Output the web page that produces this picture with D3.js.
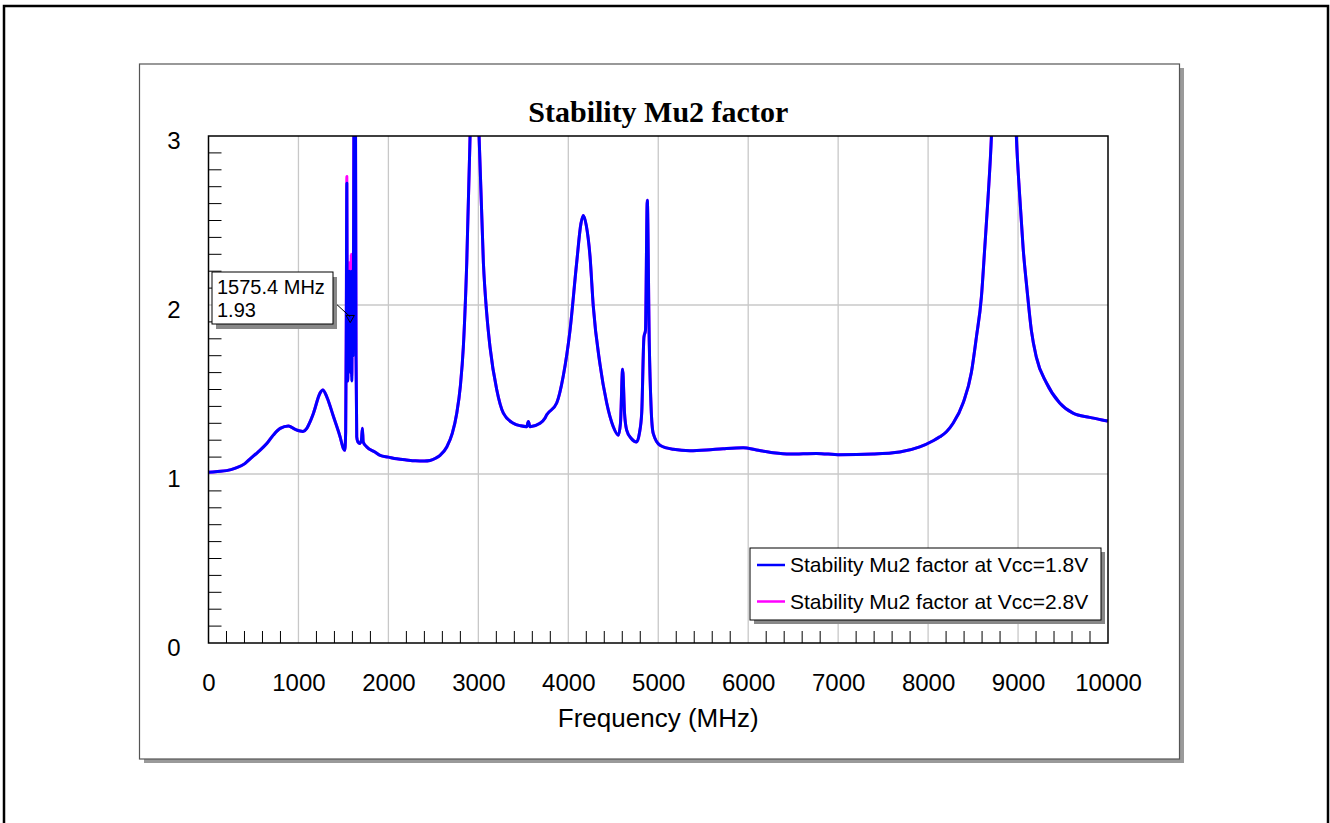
<!DOCTYPE html>
<html>
<head>
<meta charset="utf-8">
<script src="https://cdn.jsdelivr.net/npm/d3@7"></script>
<style>
  body { margin: 0; background: #fff; }
</style>
</head>
<body>
<svg width="1330" height="823"></svg>
<script>
const freqs = [0, 100, 200, 300, 400, 463, 550, 648, 720, 797, 889, 960, 1019, 1050, 1093, 1130, 1167, 1241, 1271, 1315, 1389, 1463,
  1500, 1515, 1525, 1532, 1538, 1543, 1548, 1553, 1558, 1564, 1570, 1575.4, 1581, 1587, 1593, 1600, 1606, 1613, 1620, 1632,
  1640, 1648, 1660, 1680, 1700, 1711, 1720, 1760, 1850, 1908, 2000, 2093, 2200, 2300, 2400, 2463, 2530, 2574, 2649, 2710,
  2760, 2800, 2833, 2871, 2908, 2930, 2958, 2985, 3008, 3056, 3093, 3130, 3204, 3278, 3389, 3470, 3538, 3556, 3574, 3686, 3740,
  3760, 3871, 3944, 4019, 4093, 4140, 4167, 4200, 4241, 4278, 4352, 4427, 4500, 4556, 4580, 4604, 4625, 4649, 4700, 4760,
  4790, 4816, 4841, 4858, 4878, 4900, 4920, 4944, 5019, 5167, 5352, 5537, 5722, 5944, 6093, 6278, 6463, 6759, 7019, 7389,
  7685, 7907, 8056, 8130, 8204, 8278, 8389, 8481, 8537, 8593, 8630, 8667, 8704, 8740, 8845, 8945, 8981, 9019, 9056, 9100,
  9148, 9204, 9315, 9463, 9611, 9796, 9981, 10000];

const mu2At18 = [1.01, 1.015, 1.02, 1.035, 1.06, 1.09, 1.13, 1.18, 1.23, 1.27, 1.284, 1.265, 1.254, 1.252, 1.27, 1.31, 1.36, 1.48, 1.497, 1.457, 1.34, 1.22,
  1.15, 1.14, 1.25, 1.9, 2.72, 1.7, 1.55, 2.0, 1.7, 2.2, 1.85, 1.93, 1.6, 2.2, 1.55, 2.05, 1.7, 2.4, 3.6, 3.6,
  1.7, 1.22, 1.19, 1.18, 1.2, 1.27, 1.19, 1.16, 1.13, 1.11, 1.1, 1.09, 1.083, 1.078, 1.077, 1.08, 1.095, 1.11, 1.16, 1.24,
  1.36, 1.52, 1.75, 2.25, 3.0, 3.5, 4.5, 3.5, 3.0, 2.25, 1.95, 1.75, 1.5, 1.36, 1.3, 1.285, 1.28, 1.31, 1.28, 1.3, 1.33,
  1.35, 1.42, 1.58, 1.85, 2.25, 2.48, 2.53, 2.47, 2.29, 1.99, 1.65, 1.42, 1.28, 1.23, 1.3, 1.62, 1.36, 1.26, 1.21, 1.19,
  1.24, 1.36, 1.81, 1.85, 2.62, 1.78, 1.4, 1.24, 1.17, 1.146, 1.138, 1.142, 1.15, 1.156, 1.142, 1.126, 1.118, 1.122, 1.114, 1.118,
  1.13, 1.16, 1.197, 1.22, 1.25, 1.3, 1.42, 1.6, 1.81, 2.05, 2.34, 2.64, 3.0, 3.6, 5.0, 3.6, 3.0, 2.64, 2.34, 2.09,
  1.85, 1.69, 1.54, 1.42, 1.36, 1.335, 1.315, 1.313];

const mu2At28 = [1.01, 1.015, 1.02, 1.035, 1.06, 1.09, 1.13, 1.18, 1.23, 1.27, 1.284, 1.265, 1.254, 1.252, 1.27, 1.31, 1.36, 1.48, 1.497, 1.457, 1.34, 1.22,
  1.15, 1.14, 1.25, 1.92, 2.76, 1.72, 1.55, 2.02, 1.72, 2.25, 1.86, 1.94, 1.62, 2.3, 1.58, 2.1, 1.72, 2.42, 3.6, 3.6,
  1.7, 1.22, 1.19, 1.18, 1.2, 1.27, 1.19, 1.16, 1.13, 1.11, 1.1, 1.09, 1.083, 1.078, 1.077, 1.08, 1.095, 1.11, 1.16, 1.24,
  1.36, 1.52, 1.75, 2.25, 3.0, 3.5, 4.5, 3.5, 3.0, 2.25, 1.95, 1.75, 1.5, 1.36, 1.3, 1.285, 1.28, 1.31, 1.28, 1.3, 1.33,
  1.35, 1.42, 1.58, 1.85, 2.25, 2.48, 2.53, 2.47, 2.29, 1.99, 1.65, 1.42, 1.28, 1.23, 1.3, 1.62, 1.36, 1.26, 1.21, 1.19,
  1.24, 1.36, 1.81, 1.85, 2.62, 1.78, 1.4, 1.24, 1.17, 1.146, 1.138, 1.142, 1.15, 1.156, 1.142, 1.126, 1.118, 1.122, 1.114, 1.118,
  1.13, 1.16, 1.197, 1.22, 1.25, 1.3, 1.42, 1.6, 1.81, 2.05, 2.34, 2.64, 3.0, 3.6, 5.0, 3.6, 3.0, 2.64, 2.34, 2.09,
  1.85, 1.69, 1.54, 1.42, 1.36, 1.335, 1.315, 1.313];

const xTickLabels = [0, 1000, 2000, 3000, 4000, 5000, 6000, 7000, 8000, 9000, 10000];
const yTickLabels = [0, 1, 2, 3];
const seriesNames = ['Stability Mu2 factor at Vcc=1.8V', 'Stability Mu2 factor at Vcc=2.8V'];
const seriesColors = ['#0000ff', '#ff00ff'];
const marker = { freq: 1575.4, value: 1.93 };

const sans = 'Arial, "Liberation Sans", sans-serif';
const serif = '"Times New Roman", "Liberation Serif", serif';

const svg = d3.select('svg');

// outer page frame
svg.append('rect')
  .attr('x', 4).attr('y', 6)
  .attr('width', 1324).attr('height', 840)
  .attr('fill', 'none')
  .attr('stroke', '#000')
  .attr('stroke-width', 2.5);

// chart panel with shadow
svg.append('rect')
  .attr('x', 144).attr('y', 68)
  .attr('width', 1040).attr('height', 695)
  .attr('fill', '#9a9a9a');
svg.append('rect')
  .attr('x', 139.5).attr('y', 64)
  .attr('width', 1040).attr('height', 695)
  .attr('fill', '#fff')
  .attr('stroke', '#555')
  .attr('stroke-width', 1.2);

const plotLeft = 208.5, plotRight = 1108, plotTop = 136, plotBottom = 643;

const x = d3.scaleLinear().domain([0, 10000]).range([plotLeft, plotRight]);
const y = d3.scaleLinear().domain([0, 3]).range([plotBottom, plotTop]);

// grid
const grid = svg.append('g').attr('stroke', '#c8c8c8').attr('stroke-width', 1.3);
grid.selectAll('.gx')
  .data(xTickLabels.filter(d => d > 0 && d < 10000))
  .join('line')
  .attr('x1', d => x(d)).attr('x2', d => x(d))
  .attr('y1', plotTop).attr('y2', plotBottom);
grid.selectAll('.gy')
  .data(yTickLabels.filter(d => d > 0 && d < 3))
  .join('line')
  .attr('x1', plotLeft).attr('x2', plotRight)
  .attr('y1', d => y(d)).attr('y2', d => y(d));

// curves
svg.append('clipPath').attr('id', 'plotClip')
  .append('rect')
  .attr('x', plotLeft).attr('y', plotTop)
  .attr('width', plotRight - plotLeft).attr('height', plotBottom - plotTop);

const line = d3.line()
  .x((d, i) => x(freqs[i]))
  .y(d => y(d))
  .curve(d3.curveMonotoneX);

const curves = svg.append('g').attr('clip-path', 'url(#plotClip)');
curves.append('path')
  .attr('d', line(mu2At28))
  .attr('fill', 'none')
  .attr('stroke', seriesColors[1])
  .attr('stroke-width', 3)
  .attr('stroke-linejoin', 'round');
curves.append('path')
  .attr('d', line(mu2At18))
  .attr('fill', 'none')
  .attr('stroke', seriesColors[0])
  .attr('stroke-width', 3)
  .attr('stroke-linejoin', 'round');

// plot frame
svg.append('rect')
  .attr('x', plotLeft).attr('y', plotTop)
  .attr('width', plotRight - plotLeft).attr('height', plotBottom - plotTop)
  .attr('fill', 'none')
  .attr('stroke', '#000')
  .attr('stroke-width', 1.5);

// minor ticks (inside)
const xMinor = x.ticks(50).filter(d => d % 1000 !== 0);
const yMinor = y.ticks(30).filter(d => Math.abs(d - Math.round(d)) > 1e-6);
const ticks = svg.append('g').attr('stroke', '#000').attr('stroke-width', 1);
ticks.selectAll('.tx')
  .data(xMinor)
  .join('line')
  .attr('x1', d => x(d)).attr('x2', d => x(d))
  .attr('y1', plotBottom).attr('y2', plotBottom - 12);
ticks.selectAll('.ty')
  .data(yMinor)
  .join('line')
  .attr('x1', plotLeft).attr('x2', plotLeft + 13)
  .attr('y1', d => y(d)).attr('y2', d => y(d));

// axis labels
const xAxis = svg.append('g')
  .attr('transform', `translate(0,${plotBottom})`)
  .call(d3.axisBottom(x).tickValues(xTickLabels).tickSize(0).tickPadding(31).tickFormat(d3.format('d')));
xAxis.select('.domain').remove();
xAxis.selectAll('text')
  .style('font-family', sans)
  .style('font-size', '24px')
  .attr('fill', '#000');

const yAxis = svg.append('g')
  .attr('transform', `translate(${plotLeft},0)`)
  .call(d3.axisLeft(y).tickValues(yTickLabels).tickSize(0).tickPadding(28).tickFormat(d3.format('d')));
yAxis.select('.domain').remove();
yAxis.selectAll('text')
  .style('font-family', sans)
  .style('font-size', '24px')
  .attr('dy', '0.5em')
  .attr('fill', '#000');

// title
svg.append('text')
  .attr('x', (plotLeft + plotRight) / 2)
  .attr('y', 122)
  .attr('text-anchor', 'middle')
  .style('font-family', serif)
  .style('font-weight', 'bold')
  .style('font-size', '30px')
  .text('Stability Mu2 factor');

svg.append('text')
  .attr('x', (plotLeft + plotRight) / 2)
  .attr('y', 727)
  .attr('text-anchor', 'middle')
  .style('font-family', sans)
  .style('font-size', '26px')
  .text('Frequency (MHz)');

// legend
const legend = svg.append('g').attr('transform', 'translate(750,548)');
legend.append('rect')
  .attr('x', 4).attr('y', 4)
  .attr('width', 351).attr('height', 72)
  .attr('fill', '#888');
legend.append('rect')
  .attr('width', 351).attr('height', 72)
  .attr('fill', '#fff')
  .attr('stroke', '#000')
  .attr('stroke-width', 1);
seriesNames.forEach((name, i) => {
  const row = legend.append('g').attr('transform', `translate(0,${17 + i * 36.5})`);
  row.append('line')
    .attr('x1', 7).attr('x2', 35)
    .attr('stroke', seriesColors[i])
    .attr('stroke-width', 2.5);
  row.append('text')
    .attr('x', 40)
    .attr('dy', '0.35em')
    .style('font-family', sans)
    .style('font-size', '21px')
    .text(name);
});

// marker annotation
const mx = x(marker.freq), my = y(marker.value);
svg.append('line')
  .attr('x1', 333).attr('y1', 301)
  .attr('x2', mx).attr('y2', my)
  .attr('stroke', '#000')
  .attr('stroke-width', 1);
svg.append('path')
  .attr('d', d3.symbol(d3.symbolTriangle, 30)())
  .attr('transform', `translate(${mx},${my + 1}) rotate(180)`)
  .attr('fill', 'none')
  .attr('stroke', '#000')
  .attr('stroke-width', 1);

const box = svg.append('g').attr('transform', 'translate(212,272)');
box.append('rect')
  .attr('x', 4).attr('y', 5)
  .attr('width', 121).attr('height', 52)
  .attr('fill', '#888');
box.append('rect')
  .attr('width', 121).attr('height', 52)
  .attr('fill', '#fff')
  .attr('stroke', '#000')
  .attr('stroke-width', 1);
box.append('text')
  .attr('x', 5).attr('y', 22)
  .style('font-family', sans)
  .style('font-size', '20px')
  .text(`${marker.freq} MHz`);
box.append('text')
  .attr('x', 5).attr('y', 45)
  .style('font-family', sans)
  .style('font-size', '20px')
  .text(marker.value.toFixed(2));
</script>
</body>
</html>
